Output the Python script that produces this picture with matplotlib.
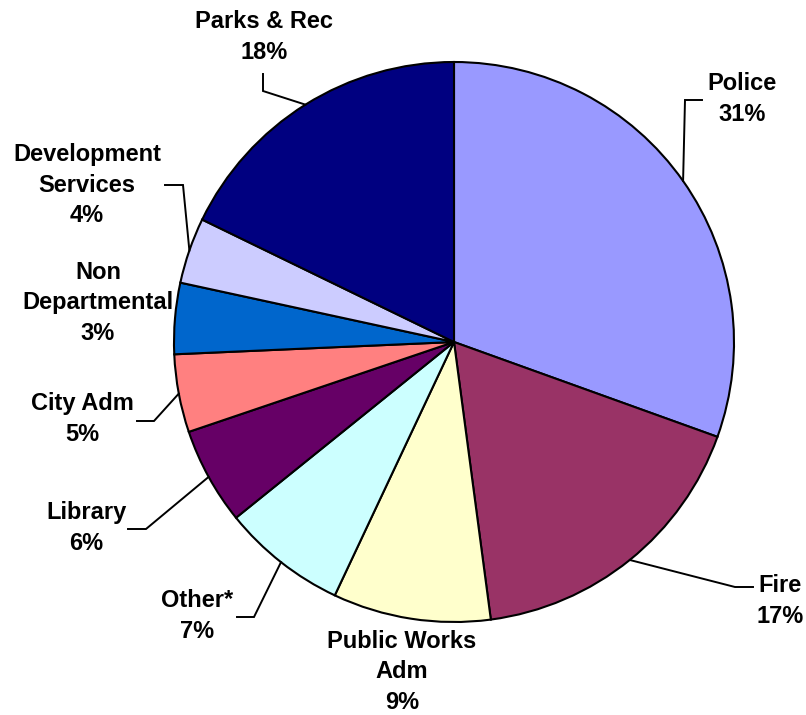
import numpy as np
import matplotlib.pyplot as plt

# Departments, clockwise from 12 o'clock
departments = ['Police', 'Fire', 'Public Works\nAdm', 'Other*', 'Library',
               'City Adm', 'Non\nDepartmental', 'Development\nServices', 'Parks & Rec']
shares = [30.5, 17.4, 9.1, 7.2, 5.6, 4.5, 4.1, 3.8, 17.8]
pct_labels = ['31%', '17%', '9%', '7%', '6%', '5%', '3%', '4%', '18%']
colors = ['#9999FF', '#993366', '#FFFFCC', '#CCFFFF', '#660066',
          '#FF8080', '#0066CC', '#CCCCFF', '#000080']

W, H = 806, 715
cx, cy, r = 454, 342, 280

# label layout in pixel coords (x, y from top): text centre, leader path (elbow, end)
text_pos = [(742, 99), (780, 601), (402, 672), (197, 616), (86, 528),
            (82, 419), (98, 303), (87, 185), (264, 37)]
leader = [[(685, 100), (702, 100)],
          [(735, 587), (753, 587)],
          None,
          [(254, 617), (237, 617)],
          [(146, 529), (128, 529)],
          [(154, 421), (137, 421)],
          None,
          [(183, 185), (165, 185)],
          [(263, 91), (263, 74)]]

fig = plt.figure(figsize=(W / 100, H / 100), dpi=100)
ax = fig.add_axes([0, 0, 1, 1])

wedges, _ = ax.pie(shares, colors=colors, startangle=90, counterclock=False,
                   center=(cx, H - cy), radius=r,
                   wedgeprops=dict(edgecolor='black', linewidth=1.5))

for w, name, pct, tp, path in zip(wedges, departments, pct_labels, text_pos, leader):
    ax.text(tp[0], H - tp[1], name + '\n' + pct, ha='center', va='center',
            fontsize=17, fontweight='bold', family='Liberation Sans',
            linespacing=1.4)
    if path is not None:
        mid = np.deg2rad((w.theta1 + w.theta2) / 2)
        xs = [cx + r * np.cos(mid)] + [p[0] for p in path]
        ys = [H - cy + r * np.sin(mid)] + [H - p[1] for p in path]
        ax.plot(xs, ys, color='black', lw=1.4, solid_joinstyle='miter')

ax.set_xlim(0, W)
ax.set_ylim(0, H)
ax.set_aspect('equal')
ax.axis('off')
fig.savefig('out.png', dpi=100)
